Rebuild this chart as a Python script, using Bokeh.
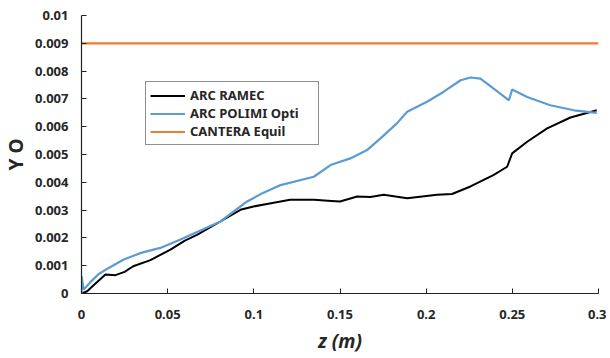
from bokeh.plotting import figure
from bokeh.models import FixedTicker, Range1d, Legend, LegendItem
from bokeh.embed import file_html
from bokeh.resources import INLINE

# ---- data ----
ramec_z = [0, 0.0033, 0.007, 0.0139, 0.0197, 0.025, 0.03, 0.04, 0.0516, 0.06, 0.067,
           0.0806, 0.0922, 0.0998, 0.11, 0.121, 0.135, 0.145, 0.150, 0.16, 0.1676,
           0.1754, 0.189, 0.2063, 0.215, 0.2257, 0.239, 0.247, 0.2499, 0.2586,
           0.2702, 0.2837, 0.299]
ramec_y = [0, 0.00008, 0.0003, 0.00068, 0.00066, 0.00078, 0.00098, 0.0012, 0.00158,
           0.0019, 0.00211, 0.00259, 0.00301, 0.00313, 0.00325, 0.00337, 0.00337,
           0.00333, 0.00331, 0.00349, 0.00347, 0.00355, 0.00343, 0.00355, 0.00358,
           0.00385, 0.00426, 0.00456, 0.00504, 0.00546, 0.00594, 0.00633, 0.00659]

polimi_z = [0, 0, 0.0013, 0.005, 0.01, 0.0158, 0.0245, 0.035, 0.0458, 0.0574, 0.07,
            0.0806, 0.0961, 0.105, 0.1155, 0.1348, 0.1445, 0.156, 0.1657, 0.1735,
            0.183, 0.189, 0.2005, 0.21, 0.22, 0.2257, 0.2315, 0.243, 0.248, 0.2499,
            0.2586, 0.272, 0.2857, 0.299]
polimi_y = [0, 0.00062, 0.00014, 0.0004, 0.0007, 0.00092, 0.00122, 0.00147, 0.00164,
            0.00194, 0.00229, 0.00259, 0.00331, 0.00361, 0.0039, 0.0042, 0.00462,
            0.00486, 0.00516, 0.00558, 0.00612, 0.00654, 0.0069, 0.00725, 0.00767,
            0.00777, 0.00773, 0.00719, 0.00695, 0.00734, 0.00707, 0.00677, 0.00659,
            0.0065]

cantera_z = [0, 0.3]
cantera_y = [0.009, 0.009]

x_ticks = [0, 0.05, 0.1, 0.15, 0.2, 0.25, 0.3]
x_tick_labels = ["0", "0.05", "0.1", "0.15", "0.2", "0.25", "0.3"]
y_ticks = [0, 0.001, 0.002, 0.003, 0.004, 0.005, 0.006, 0.007, 0.008, 0.009, 0.01]
y_tick_labels = ["0", "0.001", "0.002", "0.003", "0.004", "0.005", "0.006",
                 "0.007", "0.008", "0.009", "0.01"]

series_names = ["ARC RAMEC", "ARC POLIMI Opti", "CANTERA Equil"]
series_colors = ["#000000", "#5B9BD5", "#ED7D31"]

FONT = "Noto Sans"
TXT = "#262626"

p = figure(width=606, height=356, output_backend="svg", toolbar_location=None,
           x_range=Range1d(0, 0.3), y_range=Range1d(0, 0.01),
           min_border_left=81, min_border_right=8, min_border_top=15,
           min_border_bottom=62)
p.outline_line_color = None
p.xgrid.visible = False
p.ygrid.visible = False
p.background_fill_color = "white"
p.border_fill_color = "white"

r1 = p.line(ramec_z, ramec_y, line_color=series_colors[0], line_width=2)
r2 = p.line(polimi_z, polimi_y, line_color=series_colors[1], line_width=2.2)
r3 = p.line(cantera_z, cantera_y, line_color=series_colors[2], line_width=2.2)

for ax, ticks, labels in ((p.xaxis[0], x_ticks, x_tick_labels), (p.yaxis[0], y_ticks, y_tick_labels)):
    ax.ticker = FixedTicker(ticks=ticks)
    ax.major_label_overrides = {t: l for t, l in zip(ticks, labels)}
    ax.minor_tick_line_color = None
    ax.major_tick_in = 5
    ax.major_tick_out = 0
    ax.axis_line_color = "#222222"
    ax.major_tick_line_color = "#222222"
    ax.axis_line_width = 1.2
    ax.major_label_text_font = FONT
    ax.major_label_text_font_style = "bold"
    ax.major_label_text_font_size = "13px"
    ax.major_label_text_color = TXT
    ax.axis_label_text_font = FONT
    ax.axis_label_text_color = TXT

p.xaxis.major_label_standoff = 16
p.yaxis.major_label_standoff = 13
p.xaxis.axis_label = "z (m)"
p.xaxis.axis_label_text_font_style = "bold italic"
p.xaxis.axis_label_text_font_size = "19px"
p.xaxis.axis_label_standoff = 6
p.yaxis.axis_label = "Y O"
p.yaxis.axis_label_text_font_style = "bold"
p.yaxis.axis_label_text_font_size = "19px"
p.yaxis.axis_label_standoff = 3

legend = Legend(items=[LegendItem(label=series_names[0], renderers=[r1]),
                       LegendItem(label=series_names[1], renderers=[r2]),
                       LegendItem(label=series_names[2], renderers=[r3])],
                location=(64, 148))
legend.border_line_color = "#222222"
legend.border_line_width = 1.2
legend.padding = 4
legend.margin = 0
legend.spacing = 0
legend.label_height = 17
legend.glyph_height = 17
legend.glyph_width = 35
legend.label_standoff = 5
legend.label_width = 124
legend.label_text_font = FONT
legend.label_text_font_style = "bold"
legend.label_text_font_size = "13px"
legend.label_text_color = TXT
legend.background_fill_alpha = 1
p.add_layout(legend, "center")

open("out.html", "w").write(file_html(p, INLINE))
